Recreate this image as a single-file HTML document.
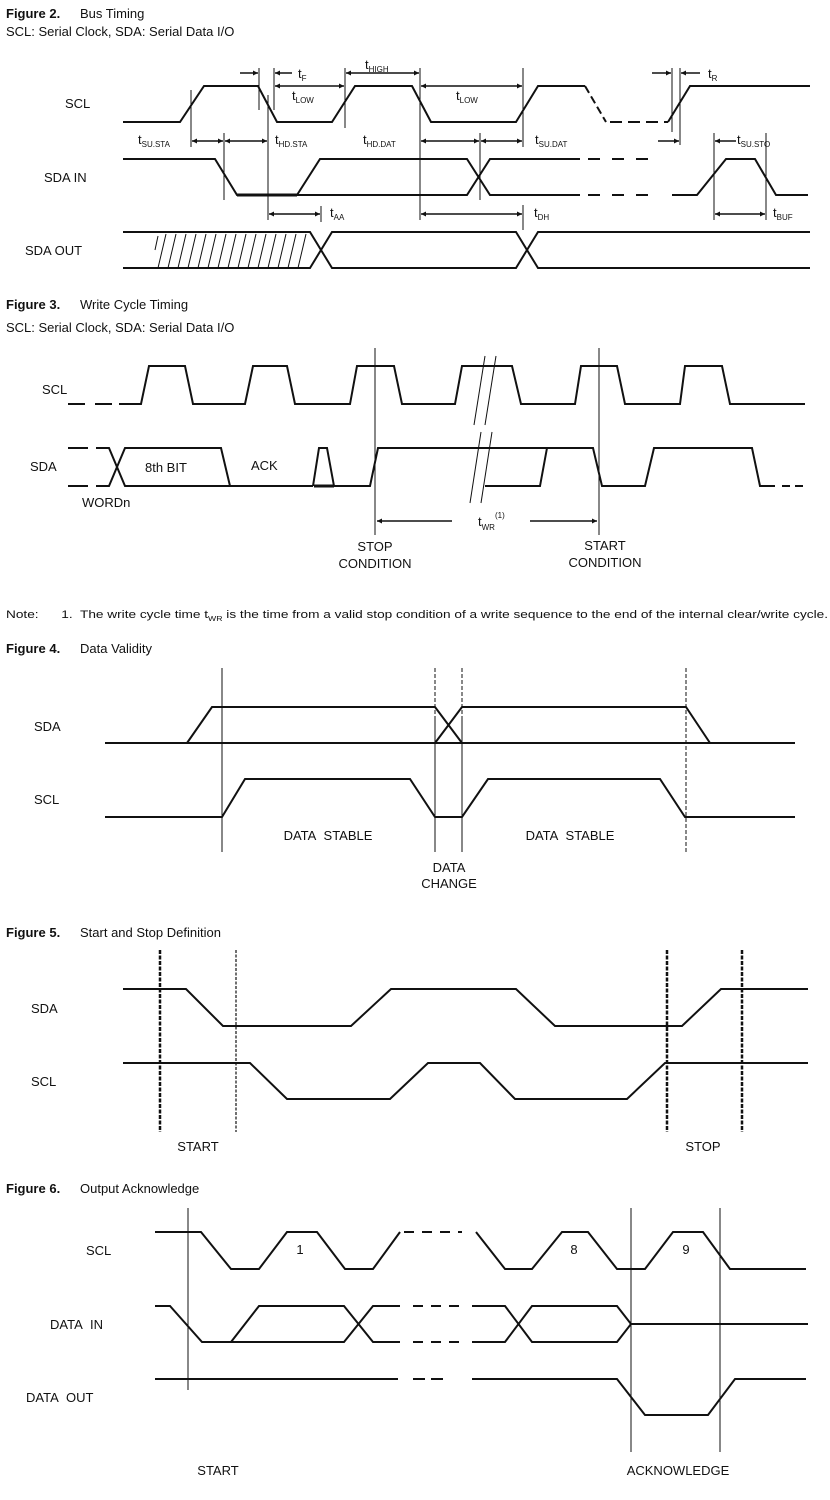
<!DOCTYPE html>
<html><head><meta charset="utf-8"><style>
body{margin:0;background:#fff}
svg{display:block}
text{font-family:"Liberation Sans",Arial,sans-serif;fill:#111}
.s{stroke:#111;stroke-width:2;fill:none}
.t{stroke:#111;stroke-width:1;fill:none}
.g{stroke:#444;stroke-width:1.5;fill:none}
.h{font-size:13px;font-weight:bold;font-family:"Liberation Sans Narrow","Liberation Sans",sans-serif}
.c{font-size:13px;font-family:"Liberation Sans Narrow","Liberation Sans",sans-serif}
.l{font-size:13px}
.sub{font-size:8px}
</style></head><body>
<svg width="830" height="1500" viewBox="0 0 830 1500" xmlns="http://www.w3.org/2000/svg">
<defs>
<marker id="a" viewBox="0 0 10 10" refX="10" refY="5" markerWidth="7" markerHeight="5" orient="auto-start-reverse" markerUnits="userSpaceOnUse"><path d="M0,0L10,5L0,10z" fill="#111"/></marker>
</defs>
<!-- Figure 2 -->
<text x="6" y="18" class="h">Figure 2.</text><text x="80" y="18" class="c">Bus Timing</text>
<text x="6" y="36" class="c">SCL: Serial Clock, SDA: Serial Data I/O</text>
<text x="65" y="108" class="l">SCL</text>
<text x="44" y="182" class="l">SDA IN</text>
<text x="25" y="255" class="l">SDA OUT</text>
<polyline class="s" points="123,122 180,122 204,86 258,86 277,122 332,122 355,86 412,86 431,122 516,122 538,86 585,86"/>
<line class="s" x1="585" y1="86" x2="606" y2="122" stroke-dasharray="8,4"/>
<line class="s" x1="610" y1="122" x2="668" y2="122" stroke-dasharray="12,6"/>
<polyline class="s" points="668,122 690,86 810,86"/>
<!-- SDA IN -->
<polyline class="s" points="123,159 215,159 237,195 297,195 320,159 467,159 490,195 580,195"/>
<polyline class="s" points="237,195 467,195 490,159 580,159"/>
<line x1="237" y1="195" x2="297" y2="195" stroke="#111" stroke-width="3"/>
<line class="s" x1="588" y1="159" x2="648" y2="159" stroke-dasharray="12,12"/>
<line class="s" x1="588" y1="195" x2="648" y2="195" stroke-dasharray="12,12"/>
<polyline class="s" points="672,195 697,195 726,159 755,159 776,195 808,195"/>
<!-- SDA OUT -->
<polyline class="s" points="123,232 310,232 332,268 516,268 538,232 810,232"/>
<polyline class="s" points="123,268 310,268 332,232 516,232 538,268 810,268"/>
<g class="t">
<line x1="155" y1="250" x2="158" y2="236"/>
<line x1="158" y1="268" x2="166" y2="234"/><line x1="168" y1="268" x2="176" y2="234"/><line x1="178" y1="268" x2="186" y2="234"/><line x1="188" y1="268" x2="196" y2="234"/><line x1="198" y1="268" x2="206" y2="234"/><line x1="208" y1="268" x2="216" y2="234"/><line x1="218" y1="268" x2="226" y2="234"/><line x1="228" y1="268" x2="236" y2="234"/><line x1="238" y1="268" x2="246" y2="234"/><line x1="248" y1="268" x2="256" y2="234"/><line x1="258" y1="268" x2="266" y2="234"/><line x1="268" y1="268" x2="276" y2="234"/><line x1="278" y1="268" x2="286" y2="234"/><line x1="288" y1="268" x2="296" y2="234"/><line x1="298" y1="268" x2="306" y2="234"/>
<!-- verticals -->
<line x1="191" y1="90" x2="191" y2="147"/>
<line x1="224" y1="133" x2="224" y2="200"/>
<line x1="259" y1="68" x2="259" y2="110"/>
<line x1="268" y1="95" x2="268" y2="220"/>
<line x1="274" y1="68" x2="274" y2="110"/>
<line x1="345" y1="68" x2="345" y2="128"/>
<line x1="420" y1="68" x2="420" y2="220"/>
<line x1="480" y1="133" x2="480" y2="200"/>
<line x1="523" y1="68" x2="523" y2="147"/>
<line x1="523" y1="205" x2="523" y2="230"/>
<line x1="321" y1="206" x2="321" y2="222"/>
<line x1="672" y1="68" x2="672" y2="132"/>
<line x1="680" y1="68" x2="680" y2="145"/>
<line x1="714" y1="133" x2="714" y2="220"/>
<line x1="766" y1="133" x2="766" y2="220"/>
</g>
<g stroke="#111" stroke-width="1.5" fill="none">
<line x1="240" y1="73" x2="258" y2="73" marker-end="url(#a)"/>
<line x1="292" y1="73" x2="275" y2="73" marker-end="url(#a)"/>
<line x1="346" y1="73" x2="419" y2="73" marker-start="url(#a)" marker-end="url(#a)"/>
<line x1="275" y1="86" x2="344" y2="86" marker-start="url(#a)" marker-end="url(#a)"/>
<line x1="421" y1="86" x2="522" y2="86" marker-start="url(#a)" marker-end="url(#a)"/>
<line x1="652" y1="73" x2="671" y2="73" marker-end="url(#a)"/>
<line x1="700" y1="73" x2="681" y2="73" marker-end="url(#a)"/>
<line x1="192" y1="141" x2="223" y2="141" marker-start="url(#a)" marker-end="url(#a)"/>
<line x1="225" y1="141" x2="267" y2="141" marker-start="url(#a)" marker-end="url(#a)"/>
<line x1="421" y1="141" x2="479" y2="141" marker-start="url(#a)" marker-end="url(#a)"/>
<line x1="481" y1="141" x2="522" y2="141" marker-start="url(#a)" marker-end="url(#a)"/>
<line x1="658" y1="141" x2="679" y2="141" marker-end="url(#a)"/>
<line x1="736" y1="141" x2="715" y2="141" marker-end="url(#a)"/>
<line x1="269" y1="214" x2="320" y2="214" marker-start="url(#a)" marker-end="url(#a)"/>
<line x1="421" y1="214" x2="522" y2="214" marker-start="url(#a)" marker-end="url(#a)"/>
<line x1="715" y1="214" x2="765" y2="214" marker-start="url(#a)" marker-end="url(#a)"/>
</g>
<g class="l">
<text x="298" y="78">t<tspan class="sub" dy="3">F</tspan></text>
<text x="365" y="69">t<tspan class="sub" dy="3">HIGH</tspan></text>
<text x="292" y="100">t<tspan class="sub" dy="3">LOW</tspan></text>
<text x="456" y="100">t<tspan class="sub" dy="3">LOW</tspan></text>
<text x="708" y="78">t<tspan class="sub" dy="3">R</tspan></text>
<text x="138" y="144">t<tspan class="sub" dy="3">SU.STA</tspan></text>
<text x="275" y="144">t<tspan class="sub" dy="3">HD.STA</tspan></text>
<text x="363" y="144">t<tspan class="sub" dy="3">HD.DAT</tspan></text>
<text x="535" y="144">t<tspan class="sub" dy="3">SU.DAT</tspan></text>
<text x="737" y="144">t<tspan class="sub" dy="3">SU.STO</tspan></text>
<text x="330" y="217">t<tspan class="sub" dy="3">AA</tspan></text>
<text x="534" y="217">t<tspan class="sub" dy="3">DH</tspan></text>
<text x="773" y="217">t<tspan class="sub" dy="3">BUF</tspan></text>
</g>

<!-- Figure 3 -->
<text x="6" y="309" class="h">Figure 3.</text><text x="80" y="309" class="c">Write Cycle Timing</text>
<text x="6" y="332" class="c">SCL: Serial Clock, SDA: Serial Data I/O</text>
<text x="42" y="394" class="l">SCL</text>
<text x="30" y="471" class="l">SDA</text>
<line class="s" x1="68" y1="404" x2="112" y2="404" stroke-dasharray="17,10"/>
<polyline class="s" points="119,404 141,404 149,366 185,366 193,404 245,404 253,366 287,366 295,404 350,404 357,366 394,366 402,404 455,404 462,366 512,366 521,404 575,404 581,366 617,366 625,404 680,404 685,366 722,366 730,404 805,404"/>
<line class="s" x1="68" y1="448" x2="88" y2="448"/><line class="s" x1="68" y1="486" x2="88" y2="486"/>
<polyline class="s" points="96,448 109,448 125,486 221,486 230,486 313,486"/>
<polyline class="s" points="96,486 109,486 125,448 221,448 230,486"/>
<polyline class="s" points="313,486 319,448 327,448 334,486 370,486 378,448 593,448 602,486 645,486 654,448 752,448 760,486 775,486"/>
<polyline class="s" points="485,486 540,486 547,448"/>
<line x1="314" y1="486" x2="334" y2="486" stroke="#111" stroke-width="3"/>
<line class="s" x1="782" y1="486" x2="805" y2="486" stroke-dasharray="8,5"/>
<g class="t">
<line x1="474" y1="425" x2="485" y2="356"/><line x1="485" y1="425" x2="496" y2="356"/>
<line x1="470" y1="503" x2="481" y2="432"/><line x1="481" y1="503" x2="492" y2="432"/>
<line x1="375" y1="348" x2="375" y2="535"/>
<line x1="599" y1="348" x2="599" y2="535"/>
</g>
<g stroke="#111" stroke-width="1.5">
<line x1="452" y1="521" x2="377" y2="521" marker-end="url(#a)"/>
<line x1="530" y1="521" x2="597" y2="521" marker-end="url(#a)"/>
</g>
<text x="478" y="526" class="l">t<tspan class="sub" dy="4">WR</tspan><tspan class="sub" dy="-12">(1)</tspan></text>
<text x="145" y="472" class="l">8th BIT</text>
<text x="251" y="470" class="l">ACK</text>
<text x="82" y="507" class="l">WORDn</text>
<text x="375" y="551" class="l" text-anchor="middle">STOP</text>
<text x="375" y="568" class="l" text-anchor="middle">CONDITION</text>
<text x="605" y="550" class="l" text-anchor="middle">START</text>
<text x="605" y="567" class="l" text-anchor="middle">CONDITION</text>
<text x="6" y="618" textLength="822" lengthAdjust="spacingAndGlyphs" style="font-size:11px">Note:&#160;&#160;&#160;&#160;&#160; 1.&#160; The write cycle time t<tspan style="font-size:7px" dy="3">WR</tspan><tspan dy="-3"> is the time from a valid stop condition of a write sequence to the end of the internal clear/write cycle.</tspan></text>

<!-- Figure 4 -->
<text x="6" y="653" class="h">Figure 4.</text><text x="80" y="653" class="c">Data Validity</text>
<text x="34" y="731" class="l">SDA</text>
<text x="34" y="804" class="l">SCL</text>
<line class="s" x1="105" y1="743" x2="795" y2="743"/>
<polyline class="s" points="187,743 212,707 435,707 462,743"/>
<polyline class="s" points="435,743 462,707 686,707 710,743"/>
<polyline class="s" points="105,817 222,817 245,779 410,779 435,817 462,817 488,779 660,779 685,817 795,817"/>
<g class="t" stroke-dasharray="4,2">
<line x1="222" y1="668" x2="222" y2="852" stroke-dasharray="none"/>
<line x1="435" y1="668" x2="435" y2="852"/>
<line x1="462" y1="668" x2="462" y2="852"/>
<line x1="686" y1="668" x2="686" y2="852"/>
</g>
<line class="t" x1="435" y1="720" x2="435" y2="852"/><line class="t" x1="462" y1="720" x2="462" y2="852"/>
<text x="328" y="840" class="l" text-anchor="middle">DATA&#160; STABLE</text>
<text x="570" y="840" class="l" text-anchor="middle">DATA&#160; STABLE</text>
<text x="449" y="872" class="l" text-anchor="middle">DATA</text>
<text x="449" y="888" class="l" text-anchor="middle">CHANGE</text>

<!-- Figure 5 -->
<text x="6" y="937" class="h">Figure 5.</text><text x="80" y="937" class="c">Start and Stop Definition</text>
<text x="31" y="1013" class="l">SDA</text>
<text x="31" y="1086" class="l">SCL</text>
<polyline class="s" points="123,989 186,989 223,1026 351,1026 391,989 516,989 555,1026 682,1026 721,989 808,989"/>
<polyline class="s" points="123,1063 250,1063 287,1099 390,1099 428,1063 480,1063 515,1099 627,1099 665,1063 808,1063"/>
<g stroke="#111" fill="none">
<line x1="160" y1="950" x2="160" y2="1132" stroke-width="2.5" stroke-dasharray="4,1.5"/>
<line x1="236" y1="950" x2="236" y2="1132" stroke-width="1.2" stroke-dasharray="3,1.5"/>
<line x1="667" y1="950" x2="667" y2="1132" stroke-width="2.5" stroke-dasharray="4,1.5"/>
<line x1="742" y1="950" x2="742" y2="1132" stroke-width="2.5" stroke-dasharray="4,1.5"/>
</g>
<text x="198" y="1151" class="l" text-anchor="middle">START</text>
<text x="703" y="1151" class="l" text-anchor="middle">STOP</text>

<!-- Figure 6 -->
<text x="6" y="1193" class="h">Figure 6.</text><text x="80" y="1193" class="c">Output Acknowledge</text>
<text x="86" y="1255" class="l">SCL</text>
<text x="50" y="1329" class="l">DATA&#160; IN</text>
<text x="26" y="1402" class="l">DATA&#160; OUT</text>
<polyline class="s" points="155,1232 201,1232 231,1269 259,1269 287,1232 317,1232 345,1269 373,1269 400,1232"/>
<line class="s" x1="404" y1="1232" x2="462" y2="1232" stroke-dasharray="10,8"/>
<polyline class="s" points="476,1232 505,1269 532,1269 562,1232 588,1232 617,1269 645,1269 673,1232 703,1232 730,1269 806,1269"/>
<polyline class="s" points="155,1306 170,1306 202,1342 344,1342 373,1306 400,1306"/>
<polyline class="s" points="231,1342 259,1306 344,1306 373,1342 400,1342"/>
<line class="s" x1="413" y1="1306" x2="462" y2="1306" stroke-dasharray="10,8"/>
<line class="s" x1="413" y1="1342" x2="462" y2="1342" stroke-dasharray="10,8"/>
<polyline class="s" points="472,1306 505,1306 532,1342 617,1342 631,1324 808,1324"/>
<polyline class="s" points="472,1342 505,1342 532,1306 617,1306 631,1324"/>
<polyline class="s" points="155,1379 398,1379"/>
<line class="s" x1="413" y1="1379" x2="447" y2="1379" stroke-dasharray="12,6"/>
<polyline class="s" points="472,1379 617,1379 645,1415 708,1415 735,1379 806,1379"/>
<g class="t" stroke-width="1.3">
<line x1="188" y1="1208" x2="188" y2="1390"/>
<line x1="631" y1="1208" x2="631" y2="1452"/>
<line x1="720" y1="1208" x2="720" y2="1452"/>
</g>
<text x="300" y="1254" class="l" text-anchor="middle">1</text>
<text x="574" y="1254" class="l" text-anchor="middle">8</text>
<text x="686" y="1254" class="l" text-anchor="middle">9</text>
<text x="218" y="1475" class="l" text-anchor="middle">START</text>
<text x="678" y="1475" class="l" text-anchor="middle">ACKNOWLEDGE</text>
</svg>
</body></html>
